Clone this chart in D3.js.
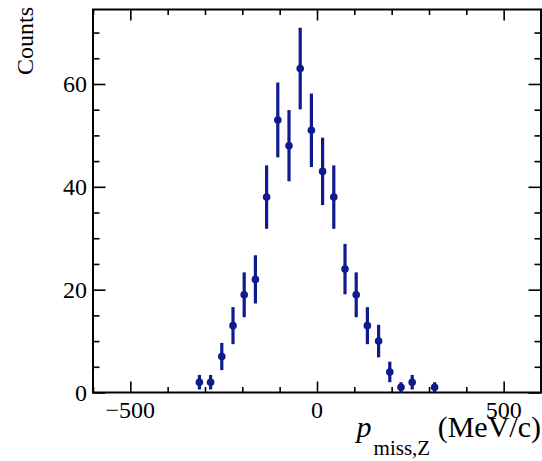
<!DOCTYPE html>
<html>
<head>
<meta charset="utf-8">
<script src="https://cdn.jsdelivr.net/npm/d3@7"></script>
<style>
  html, body { margin: 0; padding: 0; background: #fff; }
  svg { display: block; }
  text { font-family: "Liberation Serif", "Times New Roman", serif; fill: #000; }
</style>
</head>
<body>
<svg id="chart" width="542" height="461"></svg>
<script>
// Bin centres (MeV/c) and counts
const binCenters = [-315, -285, -255, -225, -195, -165, -135, -105, -75, -45, -15, 15, 45, 75, 105, 135, 165, 195, 225, 255, 285, 315];
const counts     = [2, 2, 7, 13, 19, 22, 38, 53, 48, 63, 51, 43, 38, 24, 19, 13, 10, 4, 1, 2, 0, 1];
const xTickValues = [-500, 0, 500];
const yTickValues = [0, 20, 40, 60];
const xTitleMain = "p";
const xTitleSub = "miss,Z";
const xTitleUnit = "(MeV/c)";
const yTitle = "Counts";

const xDomain = [-600, 600];
const yMax = (63 + Math.sqrt(63)) * 1.05;

const svg = d3.select("#chart");
const L = 93, R = 541, T = 9.5, B = 392.5;
const color = "#0e1a8e";

const x = d3.scaleLinear().domain(xDomain).range([L, R]);
const y = d3.scaleLinear().domain([0, yMax]).range([B, T]);

// Ticks (major + minor) on all four sides
const xMinor = d3.range(-600, 601, 100).filter(v => v % 500 !== 0);
const yMinor = d3.range(0, yMax, 5).filter(v => v % 20 !== 0);

function drawAxis(axisGen, transform) {
  const g = svg.append("g").attr("transform", transform).call(axisGen);
  g.select(".domain").remove();
  g.selectAll(".tick line").attr("stroke", "#000").attr("stroke-width", 1.6);
  return g;
}

// bottom
drawAxis(d3.axisTop(x).tickValues(xTickValues).tickSize(11).tickFormat(""), `translate(0,${B})`);
drawAxis(d3.axisTop(x).tickValues(xMinor).tickSize(5.5).tickFormat(""), `translate(0,${B})`);
// top
drawAxis(d3.axisBottom(x).tickValues(xTickValues).tickSize(11).tickFormat(""), `translate(0,${T})`);
drawAxis(d3.axisBottom(x).tickValues(xMinor).tickSize(5.5).tickFormat(""), `translate(0,${T})`);
// left
drawAxis(d3.axisRight(y).tickValues(yTickValues).tickSize(12.5).tickFormat(""), `translate(${L},0)`);
drawAxis(d3.axisRight(y).tickValues(yMinor).tickSize(6.5).tickFormat(""), `translate(${L},0)`);
// right
drawAxis(d3.axisLeft(y).tickValues(yTickValues).tickSize(12.5).tickFormat(""), `translate(${R},0)`);
drawAxis(d3.axisLeft(y).tickValues(yMinor).tickSize(6.5).tickFormat(""), `translate(${R},0)`);

// Tick labels
const fmt = v => (v < 0 ? "\u2212" + Math.abs(v) : String(v));
svg.append("g").selectAll("text").data(xTickValues).join("text")
  .attr("x", d => x(d)).attr("y", 417.5)
  .attr("text-anchor", "middle").attr("font-size", 24)
  .text(fmt);
svg.append("g").selectAll("text").data(yTickValues).join("text")
  .attr("x", 87).attr("y", d => y(d) + 8)
  .attr("text-anchor", "end").attr("font-size", 24)
  .text(fmt);

// Frame
svg.append("rect").attr("x", L).attr("y", T).attr("width", R - L).attr("height", B - T)
  .attr("fill", "none").attr("stroke", "#000").attr("stroke-width", 2);

// Data: error bars and markers
const data = binCenters.map((c, i) => ({ c, n: counts[i] })).filter(d => d.n > 0);
const g = svg.append("g");
g.selectAll("line.err").data(data).join("line")
  .attr("class", "err")
  .attr("x1", d => x(d.c)).attr("x2", d => x(d.c))
  .attr("y1", d => y(d.n + Math.sqrt(d.n)))
  .attr("y2", d => y(Math.max(0, d.n - Math.sqrt(d.n))))
  .attr("stroke", color).attr("stroke-width", 3.2);
g.selectAll("circle").data(data).join("circle")
  .attr("cx", d => x(d.c)).attr("cy", d => y(d.n))
  .attr("r", 3.8).attr("fill", color);

// Axis titles
const xt = svg.append("text").attr("x", 541).attr("y", 437).attr("text-anchor", "end").attr("font-size", 30);
xt.append("tspan").attr("font-style", "italic").text(xTitleMain);
xt.append("tspan").attr("font-size", 21).attr("dy", 18).attr("dx", 2).text(xTitleSub);
xt.append("tspan").attr("dy", -18).text(" " + xTitleUnit);

svg.append("text")
  .attr("transform", "translate(33,7) rotate(-90)")
  .attr("text-anchor", "end").attr("font-size", 24)
  .text(yTitle);
</script>
</body>
</html>
